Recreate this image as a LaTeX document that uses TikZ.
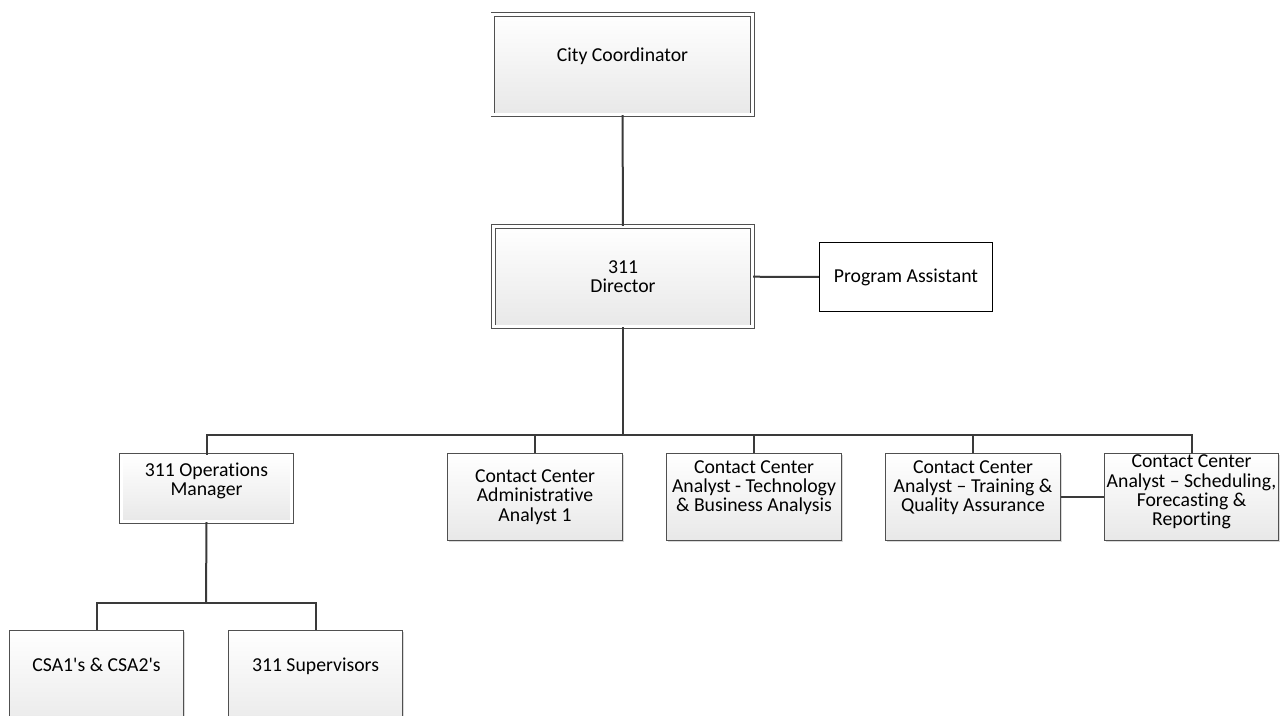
\documentclass[tikz,border=0pt]{standalone}
\usepackage{fontspec}
\setmainfont{Carlito}[Ligatures=NoCommon]
\usetikzlibrary{positioning,shadows}
\definecolor{orgLine}{HTML}{3A3A3A}
\definecolor{orgBorde}{HTML}{505050}
\definecolor{orgGris}{HTML}{E8E8E8}

\begin{document}
\begin{tikzpicture}[x=0.75pt,y=-0.75pt,
      font=\fontsize{14.8pt}{14.4pt}\selectfont,
      cargo/.style={rectangle, draw=orgBorde, line width=0.8pt, align=center,
                  top color=white, bottom color=orgGris,
                  drop shadow={shadow xshift=1.4pt, shadow yshift=-1.4pt, fill=black!25, opacity=0.6}},
      jefe/.style={cargo, line width=0.6pt, double=white, double distance=2.2pt},
      plain/.style={rectangle, draw=black, line width=0.9pt, fill=white, align=center},
      lift/.style={text depth=#1},
      link/.style={draw=orgLine, line width=1.5pt}]
    \useasboundingbox (0,0) rectangle (1281,715);
    \clip (0,0) rectangle (1281,715);
    % top of the chart
    \node[jefe, minimum width=194.6pt, minimum height=75.4pt, lift=15pt] (coord) at (622.5,64.5) {City Coordinator};
    \node[jefe, minimum width=194.6pt, minimum height=75.4pt] (dir) at (623,276.5) {311\\Director};
    \node[plain, minimum width=129.8pt, minimum height=51.8pt] (pa) at (906,277) {Program Assistant};
    % second row
    \node[jefe, minimum width=128pt, minimum height=50pt, lift=14pt] (ops) at (206.5,488.5) {311 Operations\\Manager};
    \node[cargo, minimum width=131.4pt, minimum height=65.4pt] (admin) at (535,497) {Contact Center\\Administrative\\Analyst 1};
    \node[cargo, minimum width=131.4pt, minimum height=65.4pt, lift=16pt] (tech) at (754,497) {Contact Center\\Analyst - Technology\\\& Business Analysis};
    \node[cargo, minimum width=131.4pt, minimum height=65.4pt, lift=16pt] (train) at (973,497) {Contact Center\\Analyst -- Training \&\\Quality Assurance};
    \node[cargo, minimum width=130.6pt, minimum height=65.4pt, inner sep=0.5pt, lift=10pt] (sched) at (1191.5,497) {Contact Center\\Analyst -- Scheduling,\\Forecasting \&\\Reporting};
    % bottom row, runs off the page
    \node[cargo, minimum width=130.6pt, minimum height=78pt, lift=26.5pt] (csa) at (96.5,682.5) {CSA1\textquotesingle s \& CSA2\textquotesingle s};
    \node[cargo, minimum width=130.6pt, minimum height=78pt, lift=27pt] (sup) at (315.5,682.5) {311 Supervisors};
    \coordinate (bus) at (623,435);
    \coordinate (subbus) at (206,603);
    \draw[link] (coord) -- (dir);
    \draw[link] (dir) -- (pa);
    \draw[link] (dir.south) -- (bus);
    \draw[link] (ops.north) |- (bus) -| (sched.north);
    \draw[link] (admin.north) -- (admin.north |- bus);
    \draw[link] (tech.north) -- (tech.north |- bus);
    \draw[link] (train.north) -- (train.north |- bus);
    \draw[link] (train) -- (sched);
    \draw[link] (ops.south) -- (subbus);
    \draw[link] (csa.north) |- (subbus) -| (sup.north);
  \end{tikzpicture}
\end{document}
